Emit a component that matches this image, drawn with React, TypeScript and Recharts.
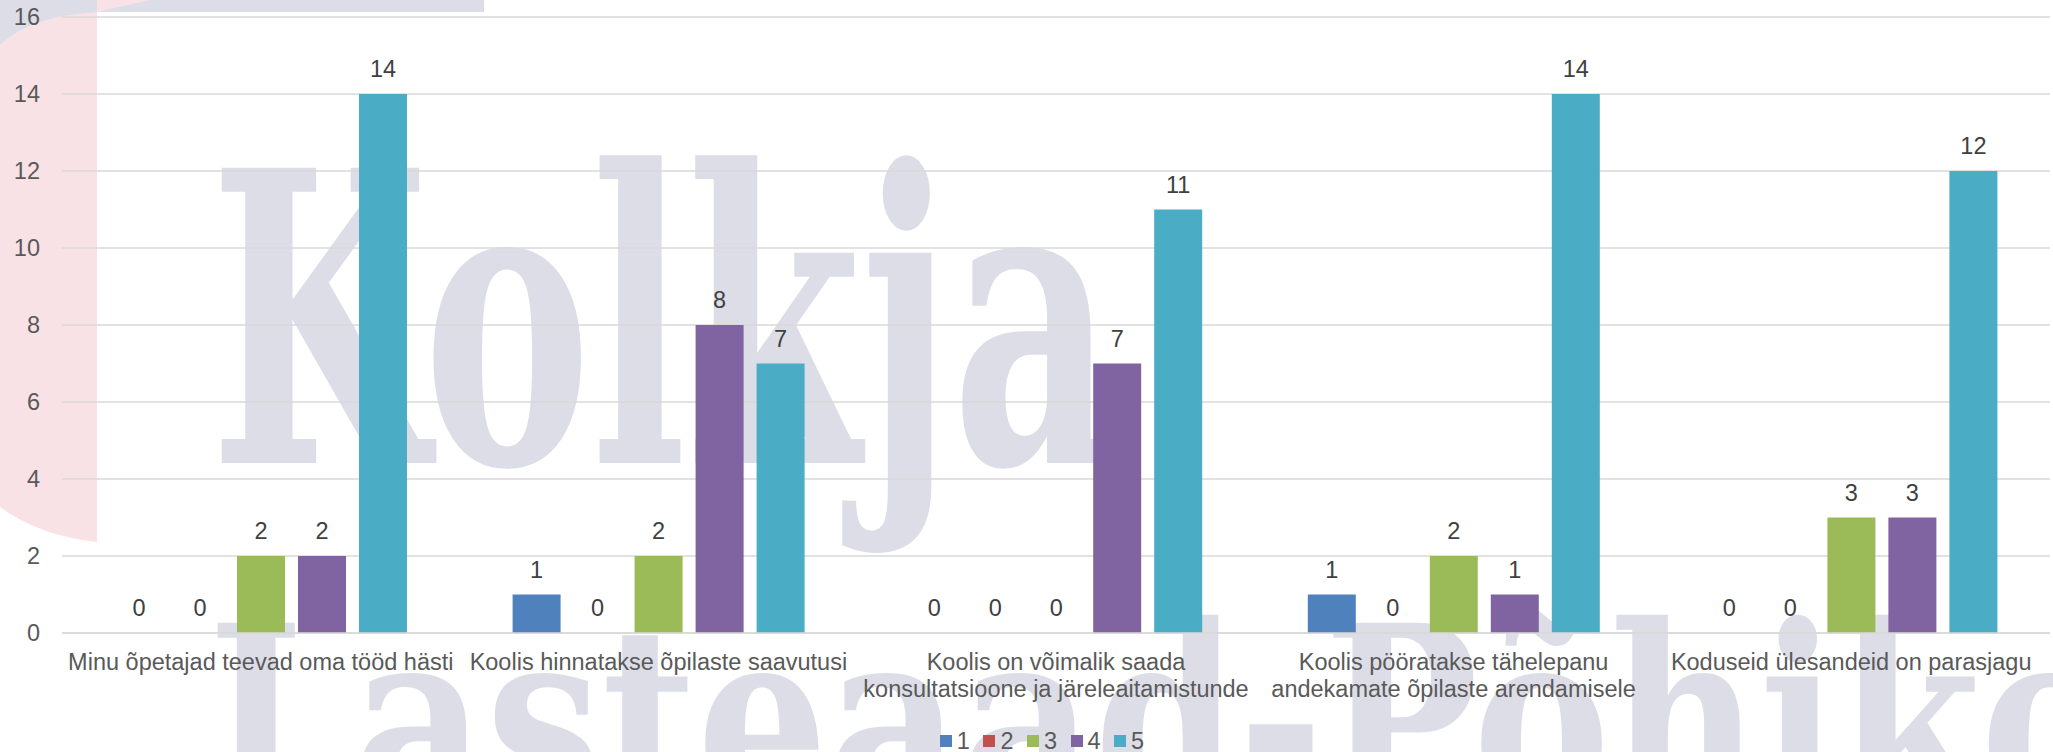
import { BarChart, Bar, XAxis, YAxis, CartesianGrid, Legend, LabelList } from 'recharts';

const categories = [
  'Minu õpetajad teevad oma tööd hästi',
  'Koolis hinnatakse õpilaste saavutusi',
  'Koolis on võimalik saada\nkonsultatsioone ja järeleaitamistunde',
  'Koolis pööratakse tähelepanu\nandekamate õpilaste arendamisele',
  'Koduseid ülesandeid on parasjagu',
];

const seriesNames = ['1', '2', '3', '4', '5'];
const score1 = [0, 1, 0, 1, 0];
const score2 = [0, 0, 0, 0, 0];
const score3 = [2, 2, 0, 2, 3];
const score4 = [2, 8, 7, 1, 3];
const score5 = [14, 7, 11, 14, 12];
const yTicks = [0, 2, 4, 6, 8, 10, 12, 14, 16];

const colors = ['#4f81bd', '#c0504d', '#9bbb59', '#8064a2', '#4bacc6'];
const FONT = '"Liberation Sans", Arial, sans-serif';

const data = categories.map((name, i) => ({
  name,
  s1: score1[i],
  s2: score2[i],
  s3: score3[i],
  s4: score4[i],
  s5: score5[i],
}));

const CategoryTick = ({ x, y, payload }: any) => {
  const lines = String(payload.value).split('\n');
  return (
    <text x={x} y={y} textAnchor="middle" fill="#595959" fontSize={23.5} fontFamily={FONT}>
      {lines.map((line, i) => (
        <tspan key={i} x={x} dy={i === 0 ? 37 : 27}>
          {line}
        </tspan>
      ))}
    </text>
  );
};

// value label above each bar, zeros included
const ValueLabel = (props: any) => {
  const { x, y, width, value } = props;
  if (value === undefined || value === null) return null;
  return (
    <text
      x={Number(x) + Number(width) / 2}
      y={Number(y) - 17}
      textAnchor="middle"
      fill="#404040"
      fontSize={23.5}
      fontFamily={FONT}
    >
      {value}
    </text>
  );
};

const LegendContent = ({ payload }: any) => (
  <div
    style={{
      display: 'flex',
      justifyContent: 'center',
      alignItems: 'center',
      gap: 13.5,
      height: 22,
      paddingLeft: 34,
      fontFamily: FONT,
      fontSize: 23.5,
      color: '#595959',
    }}
  >
    {(payload || []).map((p: any) => (
      <div key={p.value} style={{ display: 'flex', alignItems: 'center', lineHeight: '22px' }}>
        <span style={{ width: 12, height: 12, background: p.color, marginRight: 5, display: 'inline-block' }} />
        {p.value}
      </div>
    ))}
  </div>
);

function Watermark() {
  return (
    <svg width={2053} height={752} style={{ position: 'absolute', left: 0, top: 0 }}>
      <path d="M0 0 H97 V542 Q40 536 0 507 Z" fill="#f9e2e6" />
      <path d="M0 0 H97 V12 Q30 16 0 45 Z" fill="#dddde8" />
      <rect x={97} y={0} width={387} height={12} fill="#dddde8" />
      <path d="M97 0 H150 L97 12 Z" fill="#f9e2e6" />
      <text
        x={210}
        y={463}
        fontFamily="DejaVu Serif"
        fontWeight="bold"
        fontSize={405}
        textLength={905}
        lengthAdjust="spacingAndGlyphs"
        fill="#dddde8"
      >
        Kolkja
      </text>
      <text
        x={208}
        y={810}
        fontFamily="DejaVu Serif"
        fontWeight="bold"
        fontSize={257}
        textLength={2125}
        lengthAdjust="spacingAndGlyphs"
        fill="#dddde8"
      >
        Lasteaad-Põhikool
      </text>
    </svg>
  );
}

export default function App() {
  const keys = ['s1', 's2', 's3', 's4', 's5'];
  return (
    <div style={{ position: 'absolute', left: 0, top: 0, width: 2053, height: 752, background: '#fff', overflow: 'hidden' }}>
      <Watermark />
      <div style={{ position: 'absolute', left: 0, top: 0 }}>
        <BarChart
          width={2053}
          height={752}
          data={data}
          margin={{ top: 17, right: 3, bottom: 0, left: 0 }}
          barSize={48}
          barGap={13}
        >
          <CartesianGrid vertical={false} stroke="#d9d9d9" strokeWidth={1.3} />
          <XAxis
            dataKey="name"
            axisLine={{ stroke: '#d9d9d9', strokeWidth: 1.3 }}
            tickLine={false}
            tickSize={0}
            tickMargin={0}
            height={97}
            interval={0}
            tick={<CategoryTick />}
          />
          <YAxis
            width={62}
            domain={[0, 16]}
            ticks={yTicks}
            axisLine={false}
            tickLine={false}
            tickSize={0}
            tickMargin={22}
            tick={{ fill: '#595959', fontSize: 23.5, fontFamily: FONT }}
          />
          <Legend verticalAlign="bottom" align="center" content={<LegendContent />} />
          {keys.map((k, i) => (
            <Bar
              key={k}
              dataKey={k}
              name={seriesNames[i]}
              fill={colors[i]}
              minPointSize={0.01}
              isAnimationActive={false}
            >
              <LabelList dataKey={k} content={<ValueLabel />} />
            </Bar>
          ))}
        </BarChart>
      </div>
    </div>
  );
}
